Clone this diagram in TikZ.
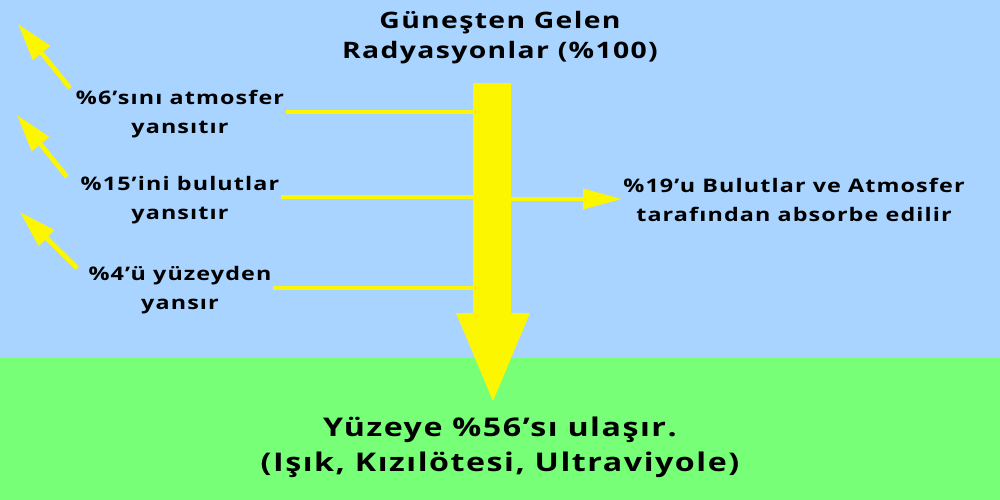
\documentclass[tikz,border=0pt]{standalone}
\usepackage{fontspec}
\setmainfont{Open Sans}[LetterSpace=6, FakeStretch=1.25]
\usetikzlibrary{arrows.meta,positioning}
\definecolor{sky}{RGB}{168,212,255}
\definecolor{grass}{RGB}{119,255,119}
\definecolor{ray}{RGB}{252,246,0}
\tikzset{
  label/.style={align=center, font=\bfseries\fontsize{14}{21.75}\selectfont, inner sep=1pt},
  reflect/.style={ray, line width=3.5pt, -{Triangle[length=28pt,width=16pt]}},
  branch/.style={ray, line width=2.4pt},
}
\begin{document}
\begin{tikzpicture}[x=0.75pt, y=-0.75pt]
  \fill[sky] (0,0) rectangle (1000,358);
  \fill[grass] (0,358) rectangle (1000,500);
  \useasboundingbox (0,0) rectangle (1000,500);

  % incoming radiation
  \node (beam) [fill=ray, minimum width=28.5pt, minimum height=174pt, inner sep=0pt, anchor=north] at (492,83) {};
  \fill[ray] (456,313) -- (530,313) -- (493,401) -- cycle;

  \node (title) [label, font=\bfseries\fontsize{17}{22.5}\selectfont] at (500,38) {Güneşten Gelen\\Radyasyonlar (\%100)};

  \node (atmos)  [label] at (180,114) {\%6’sını atmosfer\\yansıtır};
  \node (clouds) [label] at (180,200) {\%15’ini bulutlar\\yansıtır};
  \node (ground) [label] at (180,290) {\%4’ü yüzeyden\\yansır};
  \node (absorb) [label] at (794,200) {\%19’u Bulutlar ve Atmosfer\\tarafından absorbe edilir};
  \node (reach)  [label, font=\bfseries\fontsize{19.3}{26.25}\selectfont] at (500,447) {Yüzeye \%56’sı ulaşır.\\(Işık, Kızılötesi, Ultraviyole)};

  \coordinate (up1) at (18,24);
  \coordinate (up2) at (17,115);
  \coordinate (up3) at (20,212);

  \draw[branch] (atmos.east |- 0,112) -- (beam.west |- 0,112);
  \draw[branch] (clouds.east |- 0,197) -- (beam.west |- 0,197);
  \draw[branch] (ground.east |- 0,288) -- (beam.west |- 0,288);
  \draw[branch, -{Triangle[length=29pt,width=15pt]}] (beam.east |- 0,199) -- (absorb.west |- 0,199);

  \draw[reflect] (70,88) -- (up1);
  \draw[reflect] (67,177) -- (up2);
  \draw[reflect] (77,268) -- (up3);
\end{tikzpicture}
\end{document}
